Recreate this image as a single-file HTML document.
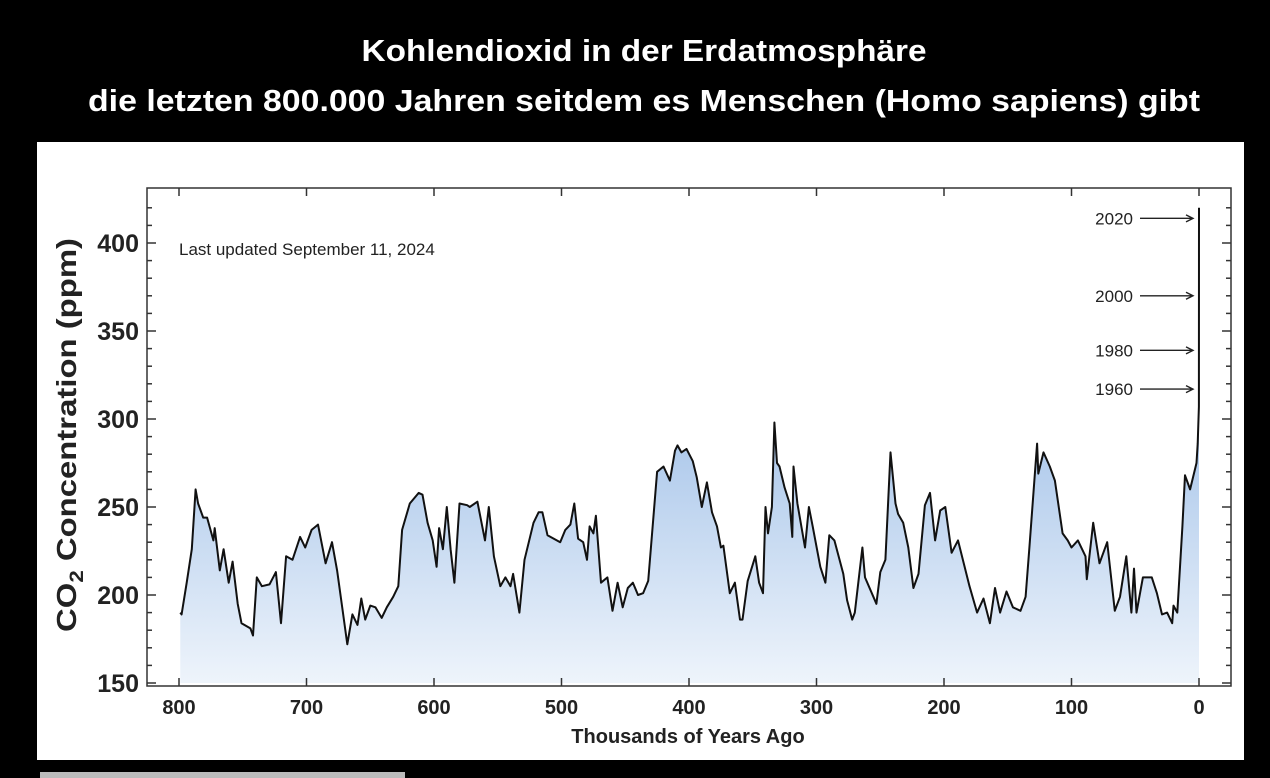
<!DOCTYPE html>
<html><head><meta charset="utf-8"><style>
html,body{margin:0;padding:0;background:#000;width:1270px;height:778px;overflow:hidden}
svg{display:block}
</style></head><body>
<svg width="1270" height="778" xmlns="http://www.w3.org/2000/svg">
<defs><linearGradient id="fillg" gradientUnits="userSpaceOnUse" x1="0" y1="420" x2="0" y2="683">
<stop offset="0" stop-color="#a9c6ea"/><stop offset="1" stop-color="#eef4fb"/></linearGradient></defs>
<rect x="0" y="0" width="1270" height="778" fill="#000"/>
<text x="644" y="61" fill="#fff" font-family="Liberation Sans, sans-serif" font-weight="bold" font-size="31" text-anchor="middle" textLength="565" lengthAdjust="spacingAndGlyphs">Kohlendioxid in der Erdatmosphäre</text>
<text x="644" y="111" fill="#fff" font-family="Liberation Sans, sans-serif" font-weight="bold" font-size="31" text-anchor="middle" textLength="1112" lengthAdjust="spacingAndGlyphs">die letzten 800.000 Jahren seitdem es Menschen (Homo sapiens) gibt</text>
<rect x="37" y="142" width="1207" height="618" fill="#fff"/>
<rect x="40" y="772" width="365" height="6" fill="#bbb"/>
<g id="plot"></g>
</svg>
<script>
const kyrAgo=[799,798,794,790,787,785,781,778,773,772,768,765,761,758,754,751,744,742,739,735,729,724,720,716,711,705,701,696,691,685,680,676,672,668,664,660,657,654,650,646,641,637,632,628,625,619,612,609,605,601,598,596,593,590,587,584,580,574,572,566,560,557,553,548,544,540,538,533,529,522,518,515,511,501,497,493,490,487,483,480,478,475,473,469,464,460,456,452,448,444,440,436,432,430,425,420,415,411,409,406,402,397,394,390,386,382,378,375,373,368,364,360,358,354,348,345,342,340,338,335,333,331,329,325,321,319,318,315,309,306,303,297,293,290,286,279,276,272,270,264,262,253,250,246,242,238,236,232,228,224,220,215,211,207,203,199,194,189,180,174,169,164,160,156,151,146,140,136,133,127,126,122,117,113,107,103,100,95,89,88,83,78,72,66,62,57,53,51,49,44,37,33,29,25,21,20,17,13,11,7,2,1,0.1,0];
const co2ppm=[190,189,207,226,260,252,244,244,231,238,214,226,207,219,195,184,181,177,210,205,206,213,184,222,220,233,227,237,240,218,230,214,193,172,189,183,198,186,194,193,187,193,199,205,237,252,258,257,241,231,216,238,226,250,226,207,252,251,250,253,231,250,222,205,210,205,212,190,220,241,247,247,234,230,237,240,252,232,230,220,239,235,245,207,210,191,207,193,204,207,200,201,208,226,270,273,265,282,285,281,283,276,267,250,264,247,239,227,228,201,207,186,186,208,222,207,201,250,235,250,298,275,273,261,252,233,273,252,227,250,239,216,207,234,231,212,197,186,190,227,210,195,213,220,281,252,246,241,227,204,212,251,258,231,248,250,224,231,205,190,198,184,204,190,202,193,191,199,227,286,269,281,273,265,235,231,227,231,222,209,241,218,230,191,199,222,190,215,190,210,210,201,189,190,184,194,190,239,268,260,275,286,307,420];
const xTicks=[800,700,600,500,400,300,200,100,0];
const yTicks=[150,200,250,300,350,400];
const yearLabels=["2020","2000","1980","1960"];
const yearPpm=[414,370,339,317];

const NS="http://www.w3.org/2000/svg";
const L=147,R=1231,T=188,B=686;
const X=k=>1199-k*1.275;
const Y=p=>683-(p-150)*1.76;
const g=document.getElementById('plot');
function mk(tag,attrs,parent){const e=document.createElementNS(NS,tag);for(const k in attrs)e.setAttribute(k,attrs[k]);(parent||g).appendChild(e);return e;}
const F="Liberation Sans, sans-serif";

let d="M"+X(kyrAgo[0])+","+Y(co2ppm[0]);
for(let i=1;i<kyrAgo.length;i++)d+=" L"+X(kyrAgo[i]).toFixed(1)+","+Y(co2ppm[i]).toFixed(1);
const area=mk('path',{d:d+" L"+X(0)+","+Y(150)+" L"+X(kyrAgo[0])+","+Y(150)+" Z",fill:"url(#fillg)",stroke:"none"});


const line=mk('path',{d:d,fill:"none",stroke:"#111","stroke-width":2,"stroke-linejoin":"round"});



const fr=mk('rect',{x:L,y:T,width:R-L,height:B-T,fill:"none",stroke:"#333","stroke-width":1.5});



for(let p=150;p<=420;p+=10){
  const maj=(p%50===0);const len=maj?9:5;const y=Y(p);
  if(y<T)continue;
  const t1=mk('line',{x1:L,x2:L+len,y1:y,y2:y,stroke:"#333","stroke-width":1.5});
  
  
  const t2=mk('line',{x1:R,x2:R-len,y1:y,y2:y,stroke:"#333","stroke-width":1.5});
  
  
}
yTicks.forEach(p=>{
  const t=mk('text',{x:139,y:Y(p)+9,"text-anchor":"end","font-family":F,"font-weight":"bold","font-size":25,fill:"#222"});
  t.textContent=p;
  
  
});
xTicks.forEach(k=>{
  const x=X(k);
  const a=mk('line',{x1:x,x2:x,y1:B,y2:B-8,stroke:"#333","stroke-width":1.5});
  
  
  const b=mk('line',{x1:x,x2:x,y1:T,y2:T+8,stroke:"#333","stroke-width":1.5});
  
  
  const t=mk('text',{x:x,y:714,"text-anchor":"middle","font-family":F,"font-weight":"bold","font-size":20,fill:"#222"});
  t.textContent=k;
  
  
});
const xt=mk('text',{x:688,y:743,"text-anchor":"middle","font-family":F,"font-weight":"bold","font-size":20,fill:"#222"});
xt.textContent="Thousands of Years Ago";


const yt=mk('text',{transform:"translate(76,435) rotate(-90)","text-anchor":"middle","font-family":F,"font-weight":"bold","font-size":28,fill:"#222",textLength:394,lengthAdjust:"spacingAndGlyphs"});
yt.innerHTML='CO<tspan font-size="19" dy="7">2</tspan><tspan dy="-7"> Concentration (ppm)</tspan>';


const lu=mk('text',{x:179,y:255,"font-family":F,"font-size":17,fill:"#222"});
lu.textContent="Last updated September 11, 2024";


yearLabels.forEach((lab,i)=>{
  const y=Y(yearPpm[i]);
  const t=mk('text',{x:1133,y:y+6,"text-anchor":"end","font-family":F,"font-size":17,fill:"#222"});
  t.textContent=lab;
  
  
  const a=mk('path',{d:`M1140,${y} L1192,${y} M1186,${y-3.5} L1193,${y} L1186,${y+3.5}`,stroke:"#222","stroke-width":1.4,fill:"none"});
  
  
});
</script>
</body></html>
